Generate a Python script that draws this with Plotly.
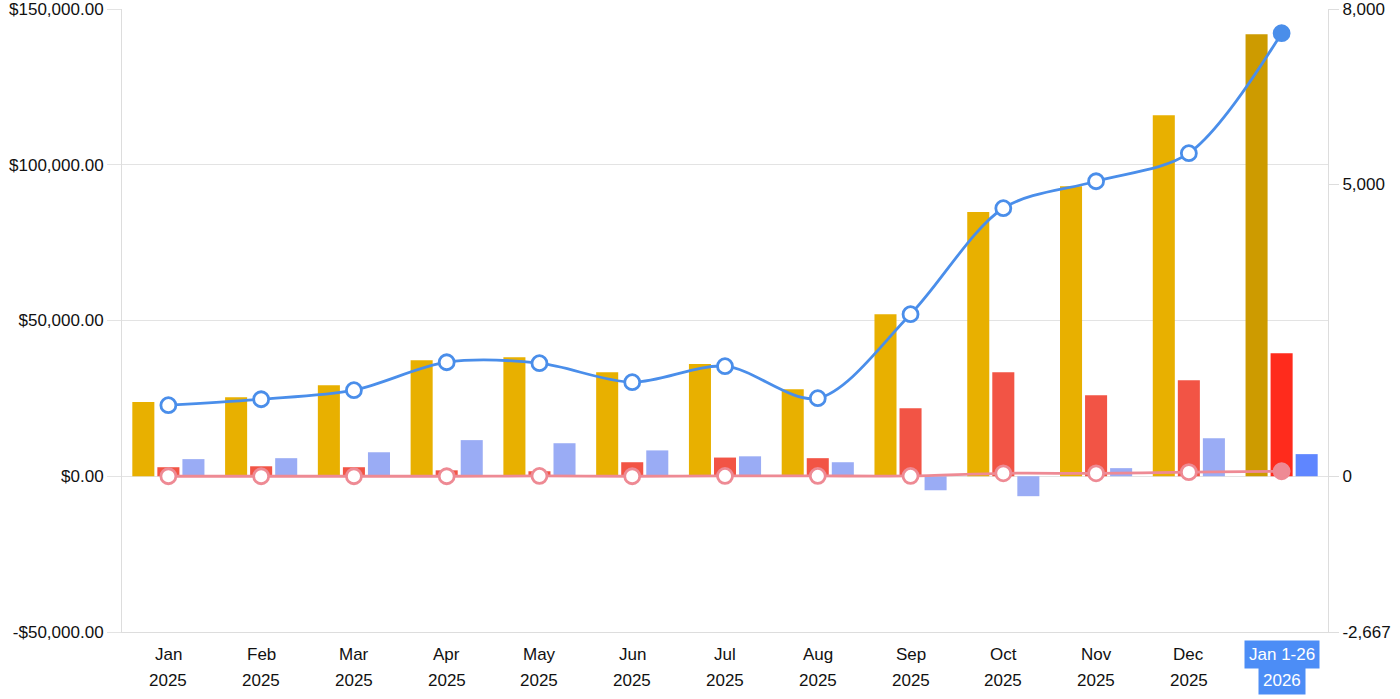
import plotly.graph_objects as go

months = ['Jan', 'Feb', 'Mar', 'Apr', 'May', 'Jun', 'Jul', 'Aug', 'Sep', 'Oct', 'Nov', 'Dec', 'Jan 1-26']
years = ['2025'] * 12 + ['2026']
cats = [m + ' ' + y for m, y in zip(months, years)]

revenue = [23800, 25400, 29200, 37200, 38200, 33400, 36000, 27900, 52000, 84800, 93100, 115900, 141900]
costs = [2900, 3200, 2900, 1900, 1600, 4500, 6000, 5800, 21800, 33400, 26000, 30800, 39500]
profit = [5500, 5800, 7700, 11600, 10600, 8300, 6400, 4500, -4500, -6400, 2600, 12200, 7100]
orders = [1216, 1318, 1473, 1952, 1935, 1610, 1884, 1336, 2774, 4589, 5051, 5531, 7586]
refunds = [0, 0, 0, 0, 5, 0, 5, 5, 5, 50, 50, 70, 85]

left_ticks = [-50000, 0, 50000, 100000, 150000]
left_labels = ['-$50,000.00', '$0.00', '$50,000.00', '$100,000.00', '$150,000.00']
right_ticks = [-2667, 0, 5000, 8000]
right_labels = ['-2,667', '0', '5,000', '8,000']

n = len(cats)
last = n - 1


def colors(base, hi):
    return [base] * last + [hi]


fig = go.Figure()
fig.add_bar(x=cats, y=revenue, marker=dict(color=colors('#E8B000', '#CD9B00'), line=dict(width=0)), name='Revenue')
fig.add_bar(x=cats, y=costs, marker=dict(color=colors('#F25445', '#FF2B1C'), line=dict(width=0)), name='Costs')
fig.add_bar(x=cats, y=profit, marker=dict(color=colors('#9AACF5', '#5F86FF'), line=dict(width=0)), name='Profit')

fig.add_scatter(x=cats, y=refunds, yaxis='y2', mode='lines+markers', name='Refunds',
                line=dict(color='#EE8A94', width=2.8, shape='spline', smoothing=0.8),
                marker=dict(size=15, color=colors('white', '#EE8A94'), line=dict(color='#EE8A94', width=2.8)))
fig.add_scatter(x=cats, y=orders, yaxis='y2', mode='lines+markers', name='Orders',
                line=dict(color='#4A8EEA', width=2.8, shape='spline', smoothing=0.9),
                marker=dict(size=15, color=colors('white', '#4A8EEA'), line=dict(color='#4A8EEA', width=2.8)))

# x labels as annotations so the two rows get the right spacing
for i, (m, y) in enumerate(zip(months, years)):
    hi = i == last
    for txt, shift in [(m, -22), (y, -48)]:
        fig.add_annotation(x=cats[i], y=0, xref='x', yref='paper', text=txt, showarrow=False,
                           yanchor='middle', yshift=shift,
                           font=dict(size=17, color='white' if hi else '#111111'),
                           bgcolor='#4C8DF6' if hi else None, borderpad=4)

fig.update_layout(
    width=1400, height=699,
    margin=dict(l=122, r=72, t=9, b=67, autoexpand=False),
    paper_bgcolor='white', plot_bgcolor='white',
    font=dict(family='Liberation Sans, Arial, sans-serif', size=17, color='#111111'),
    barmode='group', bargap=0.19, bargroupgap=0.12,
    showlegend=False,
    xaxis=dict(range=[-0.5, 12.5], showticklabels=False, showline=True, linecolor='#DDDDDD', linewidth=1,
               showgrid=False, ticks=''),
    yaxis=dict(range=[-50000, 150000], tickvals=left_ticks, ticktext=left_labels, automargin=False,
               ticklabeloverflow='allow',
               showgrid=True, gridcolor='#E3E3E3', gridwidth=1, zeroline=False,
               showline=True, linecolor='#DDDDDD', ticks='outside', ticklen=14, tickcolor='#E3E3E3'),
    yaxis2=dict(range=[-2667, 8000], overlaying='y', side='right', tickvals=right_ticks,
                ticktext=right_labels, showgrid=False, zeroline=False, automargin=False,
                ticklabeloverflow='allow',
                showline=True, linecolor='#DDDDDD', ticks='outside', ticklen=10, tickcolor='#DDDDDD'),
)

fig.write_html("out.html", post_script="document.body.style.margin='0';",
               config={'displayModeBar': False})
